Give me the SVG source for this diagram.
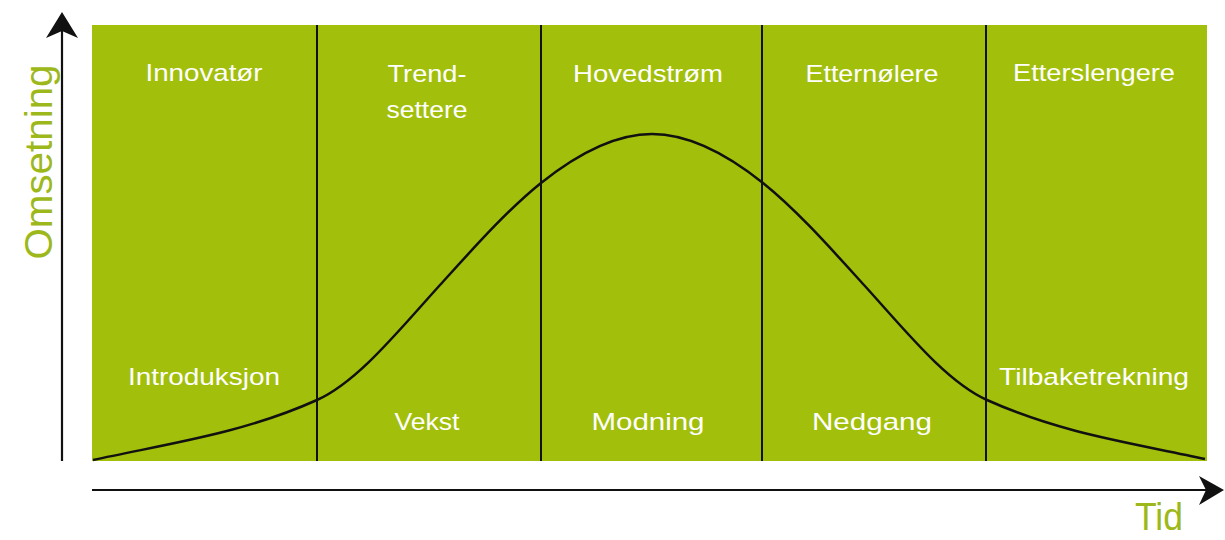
<svg xmlns="http://www.w3.org/2000/svg" width="1225" height="540" viewBox="0 0 1225 540">
<style>
.lbl{font-family:"Liberation Sans",Arial,sans-serif;font-size:24px;fill:#ffffff;text-anchor:middle}
.ax{font-family:"Liberation Sans",Arial,sans-serif;font-size:38px;fill:#9db81b}
.div{stroke:#111;stroke-width:2}
.axis{stroke:#111;stroke-width:2.2;fill:none}
</style>
<rect width="1225" height="540" fill="#ffffff"/>
<g id="panel">
<rect x="92" y="25" width="1115" height="436" fill="#a2bf0c"/>
</g>
<g id="dividers">
<line class="div" x1="317" y1="25" x2="317" y2="461"/>
<line class="div" x1="541" y1="25" x2="541" y2="461"/>
<line class="div" x1="762" y1="25" x2="762" y2="461"/>
<line class="div" x1="986" y1="25" x2="986" y2="461"/>
</g>
<g id="curve">
<path fill="none" stroke="#111" stroke-width="2.5" d="M93,460 C167.7,443.6 242.3,433.6 317,400 C358,381.6 399,330.1 440,285 C473.7,247.9 507.3,210 541,183 C578,153.4 615,134 652,134 C689,134 726,153.4 763,183 C796.7,210 830.3,247.9 864,285 C905,330.1 946,381.6 987,400 C1061.7,433.6 1132,443 1205,459"/>
</g>
<g id="axes">
<line class="axis" x1="62" y1="461" x2="62" y2="30"/>
<path d="M62,12 L78,38 L62,31 L46,38 Z" fill="#111"/>
<line class="axis" x1="92" y1="490" x2="1210" y2="490"/>
<path d="M1224,490 L1199,476 L1206,490 L1199,505 Z" fill="#111"/>
</g>
<g id="axis-labels">
<text class="ax" transform="translate(52,162) rotate(-90)" text-anchor="middle" textLength="195" lengthAdjust="spacingAndGlyphs">Omsetning</text>
<text class="ax" x="1159" y="530" text-anchor="middle" textLength="48" lengthAdjust="spacingAndGlyphs">Tid</text>
</g>
<g id="segment-innovator"><text class="lbl" x="204" y="81" textLength="117" lengthAdjust="spacingAndGlyphs">Innovatør</text></g>
<g id="segment-trendsettere"><text class="lbl" x="427" y="82" textLength="79" lengthAdjust="spacingAndGlyphs">Trend-</text><text class="lbl" x="427" y="118" textLength="81" lengthAdjust="spacingAndGlyphs">settere</text></g>
<g id="segment-hovedstrom"><text class="lbl" x="648" y="82" textLength="150" lengthAdjust="spacingAndGlyphs">Hovedstrøm</text></g>
<g id="segment-etternolere"><text class="lbl" x="872" y="82" textLength="133" lengthAdjust="spacingAndGlyphs">Etternølere</text></g>
<g id="segment-etterslengere"><text class="lbl" x="1094" y="81" textLength="162" lengthAdjust="spacingAndGlyphs">Etterslengere</text></g>
<g id="phase-introduksjon"><text class="lbl" x="204" y="385" textLength="152" lengthAdjust="spacingAndGlyphs">Introduksjon</text></g>
<g id="phase-vekst"><text class="lbl" x="427" y="430" textLength="65" lengthAdjust="spacingAndGlyphs">Vekst</text></g>
<g id="phase-modning"><text class="lbl" x="648" y="430" textLength="113" lengthAdjust="spacingAndGlyphs">Modning</text></g>
<g id="phase-nedgang"><text class="lbl" x="872" y="430" textLength="120" lengthAdjust="spacingAndGlyphs">Nedgang</text></g>
<g id="phase-tilbaketrekning"><text class="lbl" x="1094" y="385" textLength="190" lengthAdjust="spacingAndGlyphs">Tilbaketrekning</text></g>
</svg>
